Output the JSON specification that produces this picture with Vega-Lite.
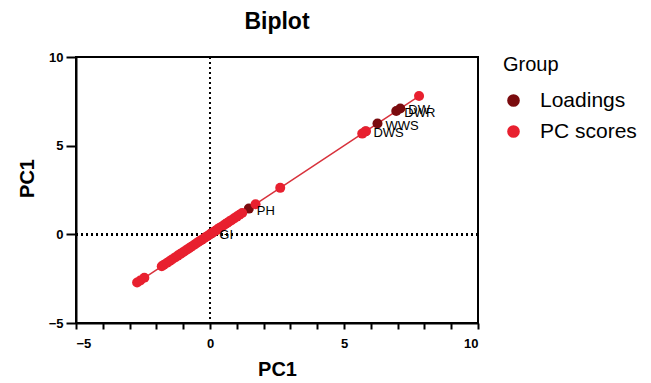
{
  "$schema": "https://vega.github.io/schema/vega-lite/v6.json",
  "autosize": {"type": "none"},
  "width": 402,
  "height": 266,
  "padding": {"left": 76, "top": 57, "right": 173, "bottom": 60},
  "background": "white",
  "config": {
    "font": "Liberation Sans",
    "view": {"stroke": "black", "strokeWidth": 2},
    "axis": {"grid": false}
  },
  "title": {
    "text": "Biplot",
    "fontSize": 23,
    "fontWeight": "bold",
    "font": "Liberation Sans",
    "color": "black",
    "anchor": "middle",
    "frame": "group",
    "baseline": "bottom",
    "offset": 24,
    "dy": 30
  },
  "data": {
    "values": [
      {"Group": "Loadings", "Label": "GI", "PC1": 0.05},
      {"Group": "Loadings", "Label": "PH", "PC1": 1.45},
      {"Group": "Loadings", "Label": "DWS", "PC1": 5.8},
      {"Group": "Loadings", "Label": "WWS", "PC1": 6.25},
      {"Group": "Loadings", "Label": "DWR", "PC1": 6.95},
      {"Group": "Loadings", "Label": "DW", "PC1": 7.1},
      {"Group": "PC scores", "Label": "", "PC1": -2.72},
      {"Group": "PC scores", "Label": "", "PC1": -2.6},
      {"Group": "PC scores", "Label": "", "PC1": -2.45},
      {"Group": "PC scores", "Label": "", "PC1": -1.8},
      {"Group": "PC scores", "Label": "", "PC1": -1.72},
      {"Group": "PC scores", "Label": "", "PC1": -1.6},
      {"Group": "PC scores", "Label": "", "PC1": -1.5},
      {"Group": "PC scores", "Label": "", "PC1": -1.42},
      {"Group": "PC scores", "Label": "", "PC1": -1.3},
      {"Group": "PC scores", "Label": "", "PC1": -1.2},
      {"Group": "PC scores", "Label": "", "PC1": -1.1},
      {"Group": "PC scores", "Label": "", "PC1": -1.02},
      {"Group": "PC scores", "Label": "", "PC1": -0.95},
      {"Group": "PC scores", "Label": "", "PC1": -0.85},
      {"Group": "PC scores", "Label": "", "PC1": -0.78},
      {"Group": "PC scores", "Label": "", "PC1": -0.7},
      {"Group": "PC scores", "Label": "", "PC1": -0.6},
      {"Group": "PC scores", "Label": "", "PC1": -0.52},
      {"Group": "PC scores", "Label": "", "PC1": -0.45},
      {"Group": "PC scores", "Label": "", "PC1": -0.38},
      {"Group": "PC scores", "Label": "", "PC1": -0.3},
      {"Group": "PC scores", "Label": "", "PC1": -0.22},
      {"Group": "PC scores", "Label": "", "PC1": -0.15},
      {"Group": "PC scores", "Label": "", "PC1": -0.08},
      {"Group": "PC scores", "Label": "", "PC1": 0.0},
      {"Group": "PC scores", "Label": "", "PC1": 0.05},
      {"Group": "PC scores", "Label": "", "PC1": 0.12},
      {"Group": "PC scores", "Label": "", "PC1": 0.2},
      {"Group": "PC scores", "Label": "", "PC1": 0.28},
      {"Group": "PC scores", "Label": "", "PC1": 0.35},
      {"Group": "PC scores", "Label": "", "PC1": 0.42},
      {"Group": "PC scores", "Label": "", "PC1": 0.5},
      {"Group": "PC scores", "Label": "", "PC1": 0.58},
      {"Group": "PC scores", "Label": "", "PC1": 0.65},
      {"Group": "PC scores", "Label": "", "PC1": 0.72},
      {"Group": "PC scores", "Label": "", "PC1": 0.8},
      {"Group": "PC scores", "Label": "", "PC1": 0.9},
      {"Group": "PC scores", "Label": "", "PC1": 1.0},
      {"Group": "PC scores", "Label": "", "PC1": 1.1},
      {"Group": "PC scores", "Label": "", "PC1": 1.2},
      {"Group": "PC scores", "Label": "", "PC1": 1.7},
      {"Group": "PC scores", "Label": "", "PC1": 2.62},
      {"Group": "PC scores", "Label": "", "PC1": 5.68},
      {"Group": "PC scores", "Label": "", "PC1": 5.82},
      {"Group": "PC scores", "Label": "", "PC1": 7.8}
    ]
  },
  "encoding": {
    "x": {
      "field": "PC1", "type": "quantitative",
      "scale": {"domain": [-5, 10], "nice": false, "zero": false},
      "axis": {
        "title": "PC1",
        "values": [-5, -4, -3, -2, -1, 0, 1, 2, 3, 4, 5, 6, 7, 8, 9, 10],
        "labelExpr": "datum.value % 5 === 0 ? datum.label : ''",
        "domainColor": "black", "domainWidth": 2,
        "tickColor": "black", "tickWidth": 2, "tickSize": 6,
        "labelFont": "Liberation Sans", "labelFontSize": 13, "labelFontWeight": "bold", "labelColor": "black",
        "labelPadding": 8,
        "titleFont": "Liberation Sans", "titleFontSize": 20, "titleFontWeight": "bold", "titleColor": "black",
        "titlePadding": 9
      }
    },
    "y": {
      "field": "PC1", "type": "quantitative",
      "scale": {"domain": [-5, 10], "nice": false, "zero": false},
      "axis": {
        "title": "PC1",
        "values": [-5, 0, 5, 10],
        "domainColor": "black", "domainWidth": 2,
        "tickColor": "black", "tickWidth": 2, "tickSize": 10,
        "labelFont": "Liberation Sans", "labelFontSize": 13, "labelFontWeight": "bold", "labelColor": "black",
        "labelPadding": 3,
        "titleFont": "Liberation Sans", "titleFontSize": 20, "titleFontWeight": "bold", "titleColor": "black",
        "titlePadding": 11,
        "titleY": 121
      }
    }
  },
  "layer": [
    {
      "mark": {"type": "rule", "strokeDash": [2, 3], "strokeWidth": 2, "color": "black"},
      "encoding": {"x": {"datum": 0, "type": "quantitative"}, "y": null}
    },
    {
      "mark": {"type": "rule", "strokeDash": [2, 3], "strokeWidth": 2, "color": "black"},
      "encoding": {"y": {"datum": 0, "type": "quantitative"}, "x": null}
    },
    {
      "transform": [{"filter": "datum.Group === 'PC scores'"}],
      "mark": {"type": "line", "color": "#d8323c", "strokeWidth": 1.5},
      "encoding": {"order": {"field": "PC1", "type": "quantitative"}}
    },
    {
      "mark": {"type": "circle", "size": 100, "opacity": 1},
      "encoding": {
        "color": {
          "field": "Group", "type": "nominal",
          "scale": {"domain": ["Loadings", "PC scores"], "range": ["#7a0b0e", "#e8202f"]},
          "legend": {
            "title": "Group",
            "orient": "none",
            "legendX": 427,
            "legendY": -2,
            "titleFont": "Liberation Sans", "titleFontSize": 20, "titleFontWeight": "normal", "titleColor": "black",
            "titlePadding": 15,
            "labelFont": "Liberation Sans", "labelFontSize": 21, "labelColor": "black",
            "labelOffset": 16,
            "symbolType": "circle", "symbolSize": 160, "symbolStrokeWidth": 0,
            "rowPadding": 9
          }
        }
      }
    },
    {
      "transform": [{"filter": "datum.Group === 'Loadings'"}],
      "mark": {"type": "text", "align": "left", "baseline": "middle", "dx": 8, "dy": 2, "fontSize": 13, "font": "Liberation Sans", "color": "black"},
      "encoding": {"text": {"field": "Label", "type": "nominal"}}
    }
  ]
}
